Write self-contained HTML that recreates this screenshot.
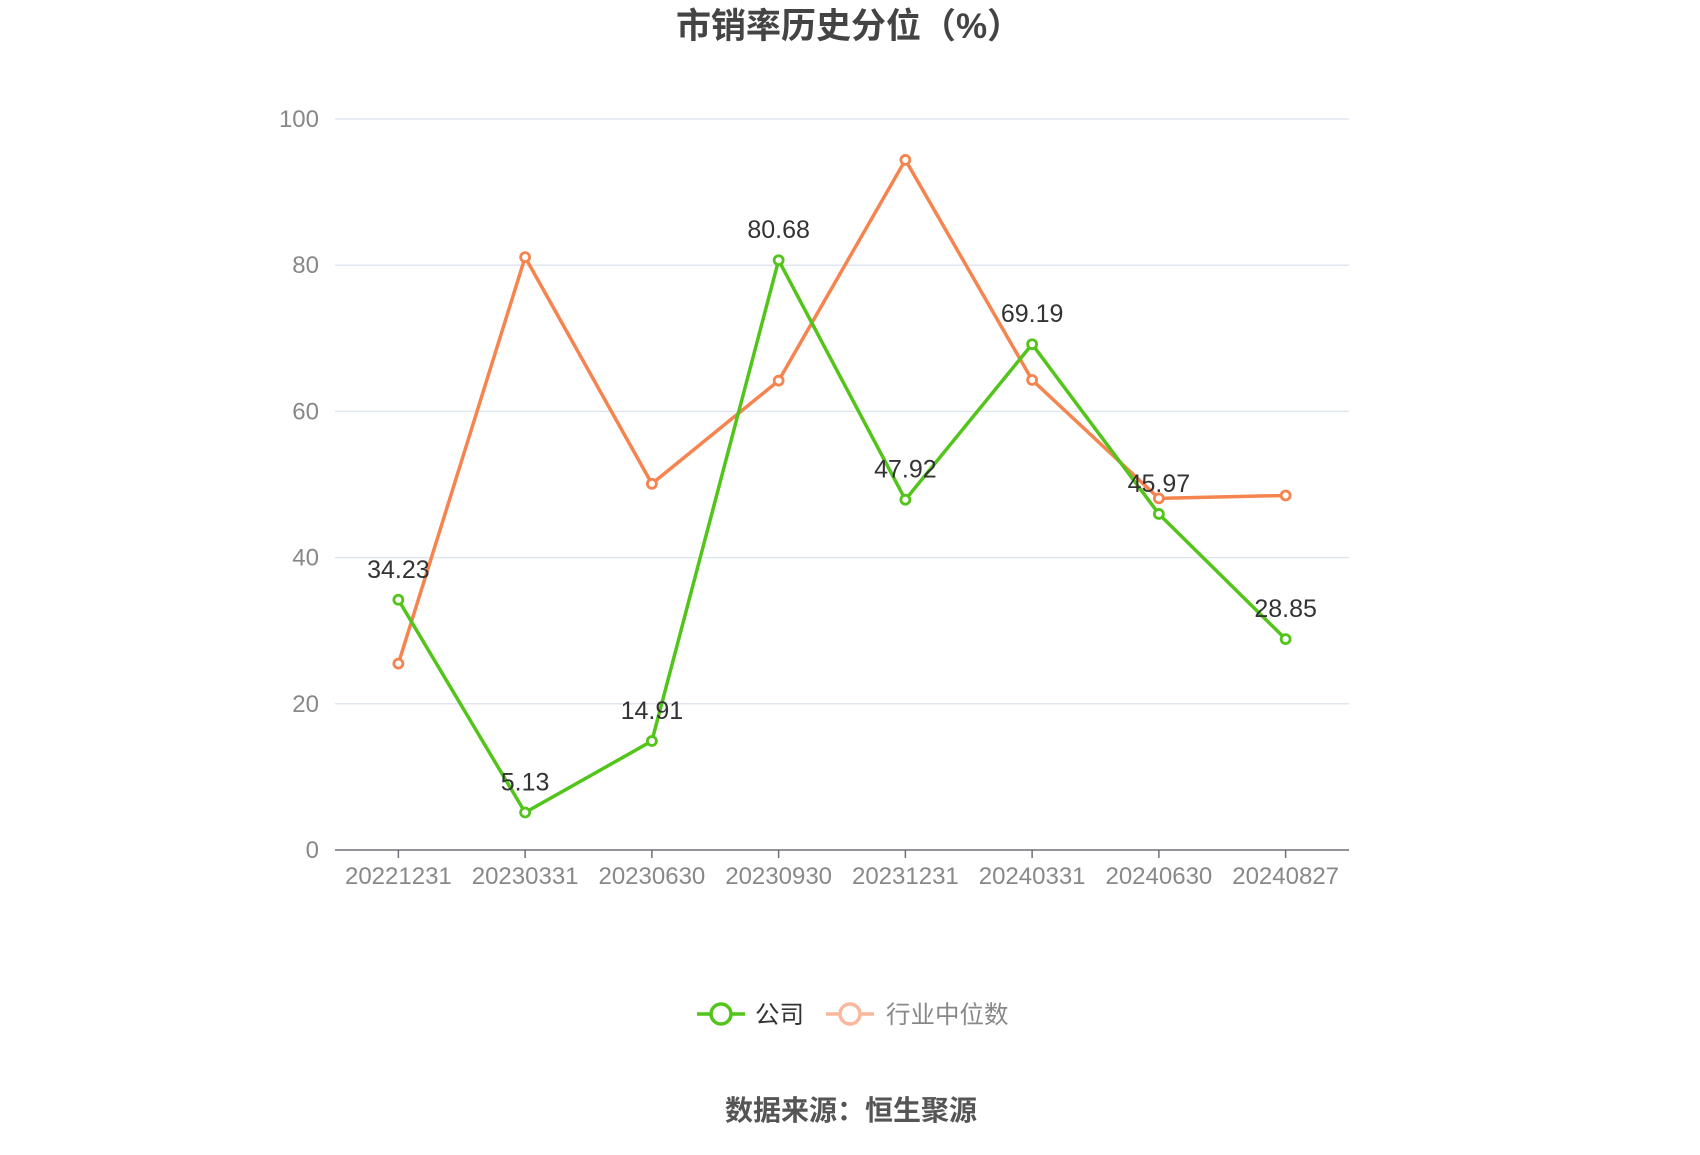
<!DOCTYPE html>
<html><head><meta charset="utf-8"><style>
body{margin:0;background:#fff;}
svg text{font-family:"Liberation Sans","Noto Sans CJK SC",sans-serif;}
</style></head><body>
<svg width="1700" height="1150" xmlns="http://www.w3.org/2000/svg">
<text x="849" y="38" text-anchor="middle" font-size="35" font-weight="bold" fill="#444">市销率历史分位（%）</text>
<g id="grid"></g><g id="series"></g>
<g>
<g>
<line x1="697" y1="1014" x2="745" y2="1014" stroke="#52c41a" stroke-width="3.5"/>
<circle cx="721" cy="1014" r="10" fill="#fff" stroke="#52c41a" stroke-width="3.5"/>
<text x="755" y="1023" font-size="24.5" fill="#333">公司</text></g>
<g>
<line x1="826" y1="1014" x2="874" y2="1014" stroke="#f9b79b" stroke-width="3.5"/>
<circle cx="850" cy="1014" r="10" fill="#fff" stroke="#f9b79b" stroke-width="3.5"/>
<text x="886" y="1023" font-size="24.5" fill="#888">行业中位数</text></g>
</g>
<text x="851" y="1120" text-anchor="middle" font-size="28" font-weight="bold" fill="#555">数据来源：恒生聚源</text>
</svg>
<script>
const categories=["20221231","20230331","20230630","20230930","20231231","20240331","20240630","20240827"];
const companyValues=[34.23,5.13,14.91,80.68,47.92,69.19,45.97,28.85];
const industryValues=[25.5,81.1,50.1,64.2,94.4,64.3,48.1,48.5];
const yTicks=[0,20,40,60,80,100];
const NS="http://www.w3.org/2000/svg";
const L=335,R=1349,T=119,B=850;
const xs=i=>L+(R-L)/categories.length*(i+0.5);
const ys=v=>B-(B-T)*v/100;
function mk(t,a,p){const e=document.createElementNS(NS,t);for(const k in a)e.setAttribute(k,a[k]);p.appendChild(e);return e;}
const g=document.getElementById('grid'),s=document.getElementById('series');
yTicks.forEach(v=>{
 if(v>0){const l=mk('line',{x1:L,x2:R,y1:ys(v),y2:ys(v),stroke:'#e0e6f1','stroke-width':1.5},g);
 
 }
 const t=mk('text',{x:L-16,y:ys(v)+8,'text-anchor':'end','font-size':24,fill:'#888'},g);t.textContent=v;
 
 
});
const ax=mk('line',{x1:L,x2:R,y1:B,y2:B,stroke:'#6e7079','stroke-width':1.5},g);


categories.forEach((c,i)=>{
 mk('line',{x1:xs(i),x2:xs(i),y1:B,y2:B+8,stroke:'#6e7079','stroke-width':1.5},g);
 const t=mk('text',{x:xs(i),y:B+34,'text-anchor':'middle','font-size':24,fill:'#888'},g);t.textContent=c;
 
 
});
function series(vals,color,name,labels){
 const p=mk('polyline',{points:vals.map((v,i)=>xs(i)+','+ys(v)).join(' '),fill:'none',stroke:color,'stroke-width':3.5,'stroke-linejoin':'round'},s);
 
 
 vals.forEach((v,i)=>{
  const c=mk('circle',{cx:xs(i),cy:ys(v),r:4.5,fill:'#fff',stroke:color,'stroke-width':2.8},s);
  
  
  if(labels){const t=mk('text',{x:xs(i),y:ys(v)-22,'text-anchor':'middle','font-size':25,fill:'#333'},s);t.textContent=v.toFixed(2);
  
  }
 });
}
series(industryValues,'#f5844e','industry',false);
series(companyValues,'#52c41a','company',true);
</script>
</body></html>
